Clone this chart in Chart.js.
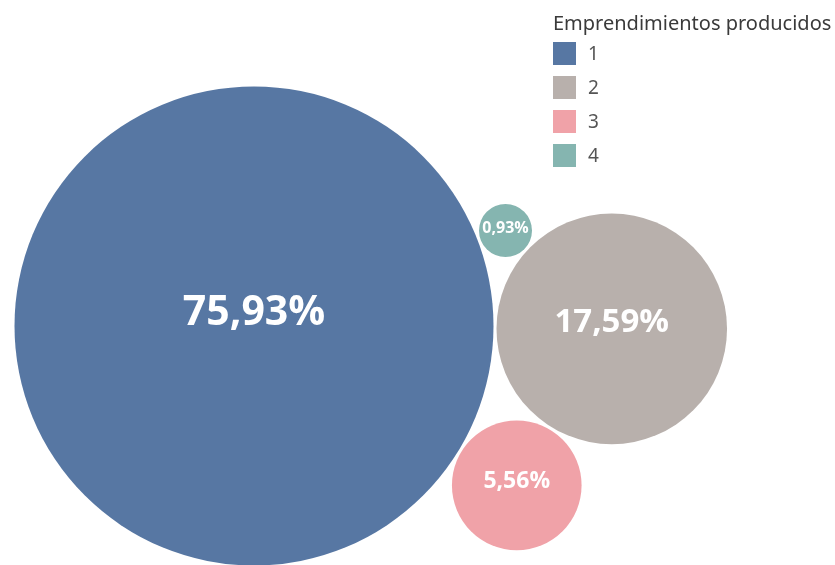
<!DOCTYPE html>
<html>
<head>
<meta charset="utf-8">
<script src="https://cdn.jsdelivr.net/npm/chart.js@4/dist/chart.umd.min.js"></script>
<style>
  body { margin: 0; background: #fff; font-family: "Noto Sans", "Open Sans", sans-serif; }
  #wrap { position: relative; width: 835px; height: 565px; }
  #legend { position: absolute; left: 553px; top: 9px; color: #333; }
  #legend .title { font-size: 20px; line-height: 27px; color: #3a3a3a; white-space: nowrap; }
  #legend .item { display: flex; align-items: center; height: 34px; font-size: 19px; color: #555; }
  #legend .sw { width: 23px; height: 23px; margin-right: 12px; }
</style>
</head>
<body>
<div id="wrap">
  <canvas id="bubbleChart"></canvas>
  <div id="legend"><div class="title">Emprendimientos producidos</div></div>
</div>
<script>
// Datos del gráfico
const categorias = ['1', '2', '3', '4'];
const porcentajes = [75.93, 17.59, 5.56, 0.93];

// Estilo
const colores = ['#5777a3', '#b8b0ac', '#f0a2a8', '#85b5b0'];
const tamanosFuente = [41, 33, 23, 16];

// Formato con coma decimal
function fmt(v) {
  return v.toFixed(2).replace('.', ',') + '%';
}

// Empaquetado simple: la primera burbuja al centro, la segunda a la derecha,
// las demás tangentes a las dos primeras (abajo / arriba)
function packBubbles(values) {
  const k = 239.5 / Math.sqrt(values[0]);
  const gap = 3;
  const r = values.map(v => k * Math.sqrt(v));
  const pos = [];
  pos[0] = { x: 254, y: 326 };
  const ang = 0.008;
  const d01 = r[0] + r[1] + gap;
  pos[1] = { x: pos[0].x + d01 * Math.cos(ang), y: pos[0].y + d01 * Math.sin(ang) };

  function tangent(ri, side) {
    const A = pos[0], B = pos[1];
    const dA = r[0] + ri + gap, dB = r[1] + ri + gap;
    const dx = B.x - A.x, dy = B.y - A.y;
    const d = Math.hypot(dx, dy);
    const a = (dA * dA - dB * dB + d * d) / (2 * d);
    const h = Math.sqrt(Math.max(0, dA * dA - a * a));
    const px = A.x + a * dx / d, py = A.y + a * dy / d;
    return { x: px - side * h * dy / d, y: py + side * h * dx / d };
  }
  for (let i = 2; i < values.length; i++) {
    pos[i] = tangent(r[i], i % 2 === 0 ? 1 : -1);
  }
  return values.map((v, i) => ({ x: pos[i].x, y: pos[i].y, r: r[i] }));
}

const puntos = packBubbles(porcentajes);

// Etiquetas dentro de las burbujas
const labelPlugin = {
  id: 'bubbleLabels',
  afterDatasetsDraw(chart) {
    const ctx = chart.ctx;
    const meta = chart.getDatasetMeta(0);
    ctx.save();
    ctx.fillStyle = '#ffffff';
    ctx.textAlign = 'center';
    ctx.textBaseline = 'middle';
    meta.data.forEach((el, i) => {
      ctx.font = 'bold ' + tamanosFuente[i] + 'px "Open Sans", "Noto Sans", sans-serif';
      ctx.fillText(fmt(porcentajes[i]), el.x, el.y - puntos[i].r * 0.05 - 1);
    });
    ctx.restore();
  }
};

function initChart() {
  const ctx = document.getElementById('bubbleChart').getContext('2d');
  new Chart(ctx, {
    type: 'bubble',
    data: {
      labels: categorias,
      datasets: [{
        label: 'Emprendimientos producidos',
        data: puntos,
        backgroundColor: colores,
        borderWidth: 0,
        hoverBorderWidth: 0,
        hoverRadius: 0
      }]
    },
    options: {
      responsive: true,
      maintainAspectRatio: false,
      animation: false,
      layout: { padding: 0, autoPadding: false },
      plugins: {
        legend: { display: false },
        tooltip: { enabled: false }
      },
      scales: {
        x: { type: 'linear', min: 0, max: 835, display: false },
        y: { type: 'linear', min: 0, max: 565, reverse: true, display: false }
      }
    },
    plugins: [labelPlugin]
  });
}

// Leyenda HTML
function buildLegend() {
  const legend = document.getElementById('legend');
  categorias.forEach((cat, i) => {
    const item = document.createElement('div');
    item.className = 'item';
    const sw = document.createElement('span');
    sw.className = 'sw';
    sw.style.background = colores[i];
    const txt = document.createElement('span');
    txt.textContent = cat;
    item.appendChild(sw);
    item.appendChild(txt);
    legend.appendChild(item);
  });
}

buildLegend();
initChart();
</script>
</body>
</html>
